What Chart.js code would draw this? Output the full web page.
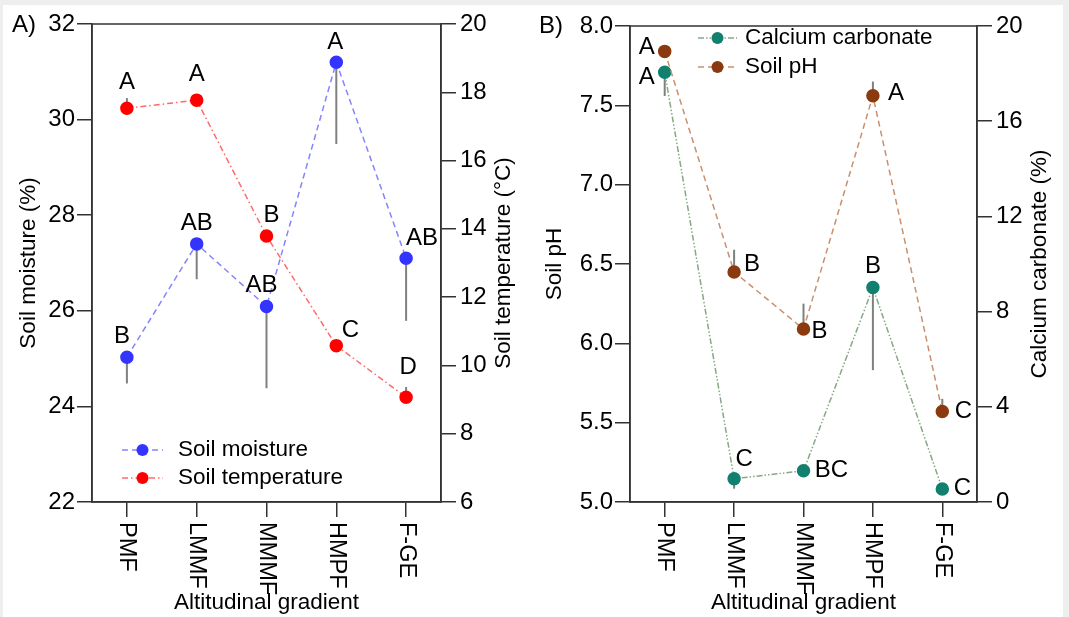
<!DOCTYPE html>
<html>
<head>
<meta charset="utf-8">
<script src="https://cdn.jsdelivr.net/npm/chart.js@4.4.0/dist/chart.umd.min.js"></script>
<style>
  html, body { margin: 0; padding: 0; background: #eeeeee; width: 1069px; height: 617px; overflow: hidden; }
  #paper { position: absolute; left: 3px; top: 5px; width: 1060px; height: 612px; background: #ffffff; }
  canvas { position: absolute; top: 0; }
  #chartA { left: 0; }
  #chartB { left: 530px; }
</style>
</head>
<body>
<div id="paper"></div>
<canvas id="chartA" width="530" height="617" style="width:530px;height:617px"></canvas>
<canvas id="chartB" width="539" height="617" style="width:539px;height:617px"></canvas>
<script>
// sites along the altitudinal gradient
const sites = ['PMF', 'LMMF', 'MMMF', 'HMPF', 'F-GE'];

// panel A
const moisture = [25.03, 27.40, 26.09, 31.20, 27.10];
const moistureErr = [0.55, 0.74, 1.71, 1.71, 1.31];
const moistureLetters = ['B', 'AB', 'AB', 'A', 'AB'];
const temperature = [17.53, 17.77, 13.79, 10.58, 9.07];
const temperatureErr = [0.30, 0.15, 0.15, 0.15, 0.30];
const temperatureLetters = ['A', 'A', 'B', 'C', 'D'];
const moistureTicks = [22, 24, 26, 28, 30, 32];
const temperatureTicks = [6, 8, 10, 12, 14, 16, 18, 20];

// panel B
const soilPH = [7.84, 6.45, 6.09, 7.56, 5.57];
const soilPHErr = [0.03, 0.14, 0.16, 0.09, 0.08];
const soilPHLetters = ['A', 'B', 'B', 'A', 'C'];
const caco3 = [18.06, 0.98, 1.31, 9.01, 0.55];
const caco3Err = [1.00, 0.42, 0.10, 3.47, 0.10];
const caco3Letters = ['A', 'C', 'BC', 'B', 'C'];
const phTicks = [5.0, 5.5, 6.0, 6.5, 7.0, 7.5, 8.0];
const caco3Ticks = [0, 4, 8, 12, 16, 20];

const FONT = '"Liberation Sans", Arial, sans-serif';
const AXIS = '#333333';

// frame round the plot area (top edge is not drawn by any axis)
const framePlugin = {
  id: 'frame',
  afterDraw(chart) {
    const { ctx, chartArea: a } = chart;
    ctx.save();
    ctx.strokeStyle = AXIS;
    ctx.lineWidth = 1.5;
    ctx.strokeRect(a.left, a.top, a.right - a.left, a.bottom - a.top);
    ctx.restore();
  }
};

// one-sided error bars, drawn under the points
const errorBarPlugin = {
  id: 'errorBars',
  beforeDatasetsDraw(chart) {
    const { ctx } = chart;
    const xs = chart.scales.x;
    ctx.save();
    ctx.strokeStyle = '#808080';
    ctx.lineWidth = 2;
    chart.data.datasets.forEach(ds => {
      if (!ds.errors) return;
      const ys = chart.scales[ds.yAxisID];
      ds.data.forEach((v, i) => {
        const x = xs.getPixelForValue(i);
        ctx.beginPath();
        ctx.moveTo(x, ys.getPixelForValue(v));
        ctx.lineTo(x, ys.getPixelForValue(v + ds.errDir * ds.errors[i]));
        ctx.stroke();
      });
    });
    ctx.restore();
  }
};

// significance letters next to each point
const letterPlugin = {
  id: 'letters',
  afterDatasetsDraw(chart) {
    const { ctx } = chart;
    ctx.save();
    ctx.fillStyle = '#000';
    ctx.font = '24px ' + FONT;
    ctx.textAlign = 'center';
    ctx.textBaseline = 'middle';
    chart.data.datasets.forEach((ds, di) => {
      if (!ds.letters) return;
      const meta = chart.getDatasetMeta(di);
      meta.data.forEach((pt, i) => {
        const off = ds.letterOffset[i];
        ctx.fillText(ds.letters[i], pt.x + off[0], pt.y + off[1]);
      });
    });
    ctx.restore();
  }
};

// x tick labels turned 90 degrees clockwise, reading downwards
const xLabelPlugin = {
  id: 'xLabels',
  afterDraw(chart) {
    const { ctx } = chart;
    const xs = chart.scales.x;
    ctx.save();
    ctx.fillStyle = '#000';
    ctx.font = '23.5px ' + FONT;
    ctx.textAlign = 'left';
    ctx.textBaseline = 'middle';
    chart.data.labels.forEach((lab, i) => {
      ctx.save();
      ctx.translate(xs.getPixelForValue(i), xs.top + 20);
      ctx.rotate(Math.PI / 2);
      ctx.fillText(lab, 0, 0);
      ctx.restore();
    });
    ctx.restore();
  }
};

// legend drawn as line + dot samples, placed inside the plot
const lineLegendPlugin = {
  id: 'lineLegend',
  afterDraw(chart, args, opts) {
    const { ctx } = chart;
    ctx.save();
    ctx.font = '22.5px ' + FONT;
    ctx.textBaseline = 'middle';
    opts.order.forEach((di, r) => {
      const ds = chart.data.datasets[di];
      const y = opts.rows[r];
      ctx.strokeStyle = ds.borderColor;
      ctx.lineWidth = 1.5;
      ctx.setLineDash(ds.borderDash);
      ctx.beginPath();
      ctx.moveTo(opts.x0, y);
      ctx.lineTo(opts.x1, y);
      ctx.stroke();
      ctx.setLineDash([]);
      ctx.fillStyle = ds.pointBackgroundColor;
      ctx.beginPath();
      ctx.arc((opts.x0 + opts.x1) / 2, y, 6, 0, Math.PI * 2);
      ctx.fill();
      ctx.fillStyle = '#000';
      ctx.fillText(ds.label, opts.textX, y);
    });
    ctx.restore();
  }
};

// panel tag and right-hand axis title (reads bottom to top)
const panelTextPlugin = {
  id: 'panelText',
  afterDraw(chart, args, opts) {
    const { ctx, chartArea: a } = chart;
    ctx.save();
    ctx.fillStyle = '#000';
    ctx.font = '24px ' + FONT;
    ctx.textAlign = 'left';
    ctx.textBaseline = 'middle';
    ctx.fillText(opts.tag, opts.tagX, opts.tagY);
    ctx.font = '22.5px ' + FONT;
    ctx.textAlign = 'center';
    ctx.translate(opts.rightTitleX, (a.top + a.bottom) / 2);
    ctx.rotate(-Math.PI / 2);
    ctx.fillText(opts.rightTitle, 0, 0);
    ctx.restore();
  }
};

function yAxis(ticks, position, width, fmt, title, titlePad) {
  return {
    type: 'linear',
    position,
    min: ticks[0],
    max: ticks[ticks.length - 1],
    afterBuildTicks(scale) { scale.ticks = ticks.map(v => ({ value: v })); },
    afterFit(scale) { scale.width = width; },
    grid: { drawOnChartArea: false, tickLength: 15, color: AXIS, lineWidth: 1.5 },
    border: { color: AXIS, width: 1.5 },
    ticks: {
      color: '#000',
      padding: position === 'left' ? 2 : 4,
      font: { family: FONT, size: 24 },
      callback: fmt
    },
    title: title ? {
      display: true, text: title, color: '#000',
      font: { family: FONT, size: 22.5 },
      padding: { top: titlePad, bottom: 0 }
    } : { display: false }
  };
}

function xAxis() {
  return {
    type: 'category',
    offset: true,
    afterFit(scale) { scale.height = 115; },
    grid: { drawOnChartArea: false, tickLength: 15, color: AXIS, lineWidth: 1.5, offset: false },
    border: { color: AXIS, width: 1.5 },
    ticks: { display: false },
    title: {
      display: true, text: 'Altitudinal gradient', color: '#000',
      font: { family: FONT, size: 22.5 },
      padding: { top: 0, bottom: 1 }
    }
  };
}

const basePlugins = [framePlugin, errorBarPlugin, letterPlugin, xLabelPlugin, lineLegendPlugin, panelTextPlugin];

new Chart(document.getElementById('chartA'), {
  type: 'line',
  data: {
    labels: sites,
    datasets: [
      {
        label: 'Soil moisture',
        data: moisture,
        yAxisID: 'y',
        borderColor: '#8484ff',
        borderWidth: 1.5,
        borderDash: [6, 4],
        pointBackgroundColor: '#3434ff',
        pointBorderColor: '#3434ff',
        pointRadius: 6,
        tension: 0,
        errors: moistureErr,
        errDir: -1,
        letters: moistureLetters,
        letterOffset: [[-5, -21], [0, -21], [-5, -21], [-1, -20], [16, -20]]
      },
      {
        label: 'Soil temperature',
        data: temperature,
        yAxisID: 'y1',
        borderColor: '#ff6a6a',
        borderWidth: 1.5,
        borderDash: [6, 3, 1.5, 3],
        pointBackgroundColor: '#ff0000',
        pointBorderColor: '#ff0000',
        pointRadius: 6,
        tension: 0,
        errors: temperatureErr,
        errDir: 1,
        letters: temperatureLetters,
        letterOffset: [[0, -26], [0, -26], [5, -21], [14, -15], [2, -30]]
      }
    ]
  },
  options: {
    responsive: false,
    animation: false,
    layout: { padding: { top: 24, left: 0, right: 0, bottom: 0 } },
    plugins: {
      legend: { display: false },
      tooltip: { enabled: false },
      lineLegend: { order: [0, 1], x0: 122, x1: 163, textX: 178, rows: [450, 478] },
      panelText: { tag: 'A)', tagX: 12, tagY: 25, rightTitle: 'Soil temperature (°C)', rightTitleX: 504 }
    },
    scales: {
      x: xAxis(),
      y: yAxis(moistureTicks, 'left', 92, v => String(v), 'Soil moisture (%)', 15.5),
      y1: yAxis(temperatureTicks, 'right', 89, v => String(v), null, 0)
    }
  },
  plugins: basePlugins
});

new Chart(document.getElementById('chartB'), {
  type: 'line',
  data: {
    labels: sites,
    datasets: [
      {
        label: 'Soil pH',
        data: soilPH,
        yAxisID: 'y',
        borderColor: '#c8906c',
        borderWidth: 1.5,
        borderDash: [6, 4],
        pointBackgroundColor: '#8b3a0f',
        pointBorderColor: '#8b3a0f',
        pointRadius: 6,
        tension: 0,
        errors: soilPHErr,
        errDir: 1,
        letters: soilPHLetters,
        letterOffset: [[-18, -4], [18, -8], [16, 2], [23, -2], [21, 0]]
      },
      {
        label: 'Calcium carbonate',
        data: caco3,
        yAxisID: 'y1',
        borderColor: '#86a886',
        borderWidth: 1.5,
        borderDash: [6, 2, 1.5, 2, 1.5, 2],
        pointBackgroundColor: '#11806f',
        pointBorderColor: '#11806f',
        pointRadius: 6,
        tension: 0,
        errors: caco3Err,
        errDir: -1,
        letters: caco3Letters,
        letterOffset: [[-18, 5], [10, -19], [28, 0], [0, -21], [20, -1]]
      }
    ]
  },
  options: {
    responsive: false,
    animation: false,
    layout: { padding: { top: 26, left: 0, right: 0, bottom: 0 } },
    plugins: {
      legend: { display: false },
      tooltip: { enabled: false },
      lineLegend: { order: [1, 0], x0: 168, x1: 207, textX: 215, rows: [38, 67] },
      panelText: { tag: 'B)', tagX: 9, tagY: 26, rightTitle: 'Calcium carbonate (%)', rightTitleX: 510 }
    },
    scales: {
      x: xAxis(),
      y: yAxis(phTicks, 'left', 100, v => Number(v).toFixed(1), 'Soil pH', 11.5),
      y1: yAxis(caco3Ticks, 'right', 92, v => String(v), null, 0)
    }
  },
  plugins: basePlugins
});
</script>
</body>
</html>
